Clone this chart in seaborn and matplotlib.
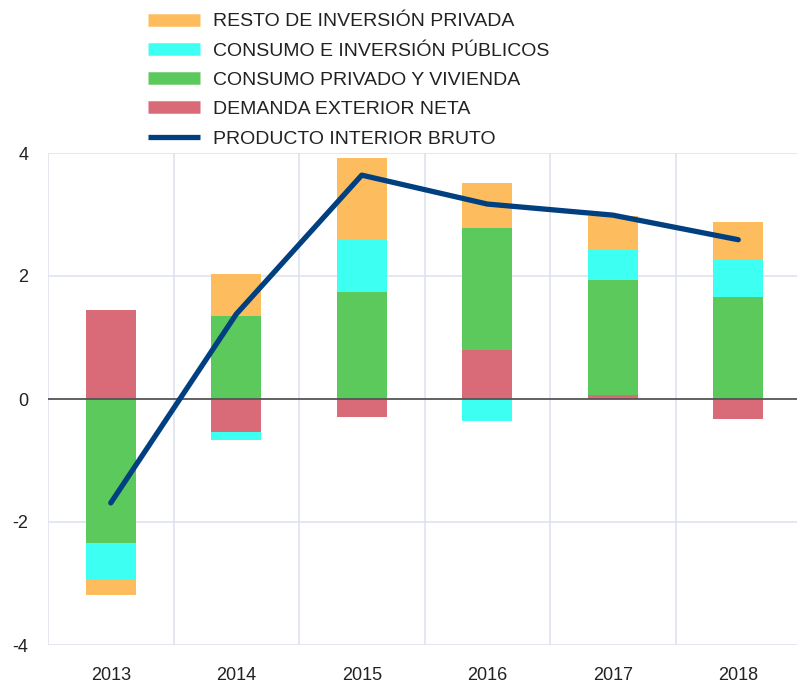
import numpy as np
import pandas as pd
import matplotlib.pyplot as plt
from matplotlib.lines import Line2D
import seaborn as sns

# =====================================
# Data (contributions to GDP growth, pp)
# =====================================
YEARS = ['2013', '2014', '2015', '2016', '2017', '2018']
DEMANDA_EXTERIOR = [1.45, -0.54, -0.29, 0.80, 0.06, -0.32]
CONSUMO_PRIVADO = [-2.34, 1.35, 1.74, 1.98, 1.88, 1.66]
CONSUMO_PUBLICO = [-0.60, -0.12, 0.85, -0.36, 0.48, 0.60]
RESTO_INVERSION = [-0.24, 0.68, 1.33, 0.73, 0.55, 0.62]
PIB = [-1.69, 1.38, 3.64, 3.17, 2.99, 2.59]

LABELS = ['RESTO DE INVERSIÓN PRIVADA', 'CONSUMO E INVERSIÓN PÚBLICOS',
          'CONSUMO PRIVADO Y VIVIENDA', 'DEMANDA EXTERIOR NETA',
          'PRODUCTO INTERIOR BRUTO']
COLORS = {'resto': '#FDBC5E', 'publico': '#3DFFF2', 'privado': '#5CC95C',
          'exterior': '#D96B78', 'pib': '#003F80'}

# =====================================
# Style
# =====================================
sns.set_theme(style='white')
plt.rcParams['font.family'] = ['Liberation Sans', 'DejaVu Sans']
plt.rcParams['text.color'] = '#222222'
plt.rcParams['axes.unicode_minus'] = False

fig = plt.figure(figsize=(7.97, 6.83), dpi=100)
ax = fig.add_axes([48 / 797, 1 - 645 / 683, 753 / 797, 492 / 683])

# stacked bars: positives stack upwards, negatives downwards
layers = [(DEMANDA_EXTERIOR, COLORS['exterior']),
          (CONSUMO_PRIVADO, COLORS['privado']),
          (CONSUMO_PUBLICO, COLORS['publico']),
          (RESTO_INVERSION, COLORS['resto'])]
pos_base = np.zeros(len(YEARS))
neg_base = np.zeros(len(YEARS))
for vals, col in layers:
    vals = np.array(vals)
    bottom = np.where(vals >= 0, pos_base, neg_base)
    sns.barplot(x=YEARS, y=vals, bottom=bottom, color=col, saturation=1,
                width=0.4, ax=ax, linewidth=0, zorder=3)
    pos_base += np.clip(vals, 0, None)
    neg_base += np.clip(vals, None, 0)

sns.lineplot(x=np.arange(len(YEARS)), y=PIB, color=COLORS['pib'], lw=3.8,
             ax=ax, zorder=4)

ax.axhline(0, color='#555555', lw=1.3, zorder=3.5)

ax.set_xlim(-0.5, 5.5)
ax.set_ylim(-4, 4)
ax.set_yticks([-4, -2, 0, 2, 4])
ax.set_xticks(range(len(YEARS)))
ax.set_xticklabels(YEARS)
ax.grid(False)
for yv in [-4, -2, 2, 4]:
    ax.axhline(yv, color='#DDE0EE', lw=1.1, zorder=1)
for xv in np.arange(-0.5, 6, 1):
    ax.axvline(xv, color='#DDE0EE', lw=1.1, zorder=1)
ax.tick_params(axis='both', which='both', length=0, labelsize=13,
               colors='#222222')
ax.tick_params(axis='x', pad=16)
ax.tick_params(axis='y', pad=14)
ax.set_xlabel('')
ax.set_ylabel('')
sns.despine(ax=ax, left=True, bottom=True)

handles = [Line2D([0], [0], color=COLORS['resto'], lw=9, solid_capstyle='butt'),
           Line2D([0], [0], color=COLORS['publico'], lw=9, solid_capstyle='butt'),
           Line2D([0], [0], color=COLORS['privado'], lw=9, solid_capstyle='butt'),
           Line2D([0], [0], color=COLORS['exterior'], lw=9, solid_capstyle='butt'),
           Line2D([0], [0], color=COLORS['pib'], lw=3.8, solid_capstyle='butt')]
fig.legend(handles, LABELS, loc='upper left', bbox_to_anchor=(140 / 797, 1 - 5 / 683),
           frameon=False, fontsize=14, handlelength=2.67, handletextpad=0.67,
           labelspacing=0.6, borderaxespad=0)

fig.savefig('out.png', dpi=100)
